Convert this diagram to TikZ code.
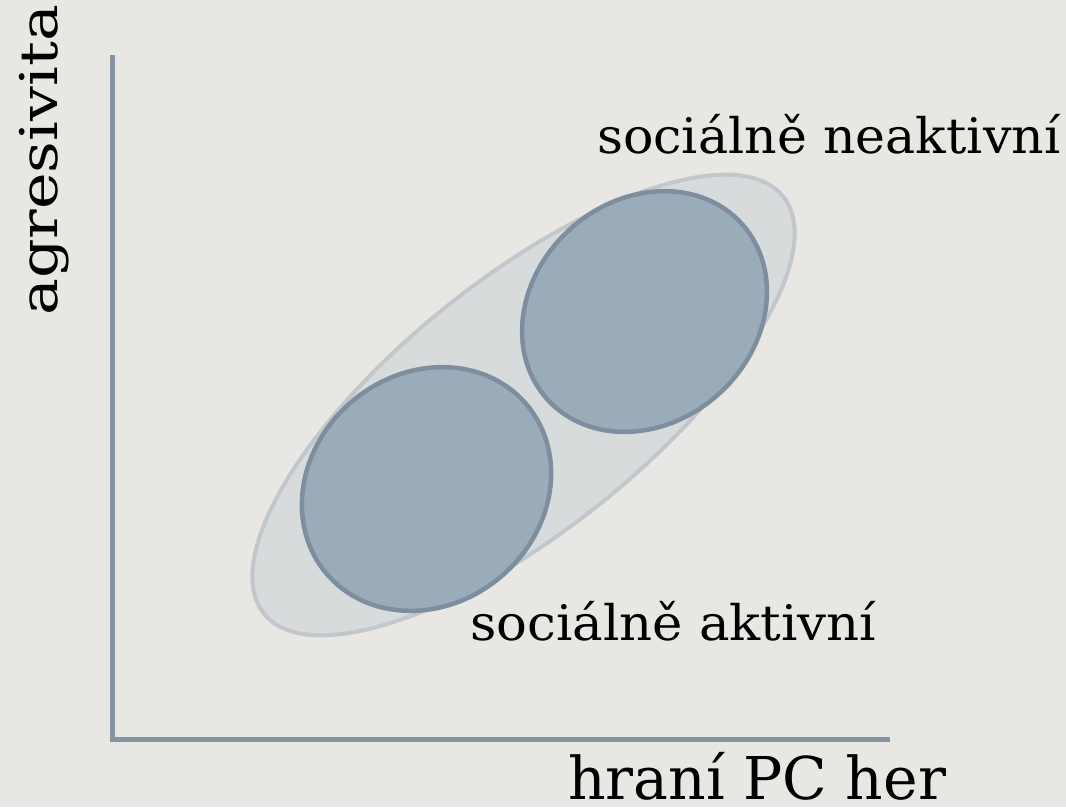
\documentclass[tikz,border=0pt]{standalone}
\usepackage{fontspec}
\setmainfont{DejaVu Serif}
\definecolor{bgc}{HTML}{E9E7E3}
\definecolor{axisc}{HTML}{8593A3}
\definecolor{bigfill}{HTML}{D6D9DB}
\definecolor{bigline}{HTML}{C3C7CB}
\definecolor{smallfill}{HTML}{9AABB9}
\definecolor{smallline}{HTML}{7E8E9F}
\begin{document}
\begin{tikzpicture}[x=1pt,y=-1pt,
  axisline/.style={draw=axisc,line width=5pt},
  cloud/.style={fill=bigfill,fill opacity=0.85,draw=bigline,line width=4pt},
  group/.style={fill=smallfill,draw=smallline,line width=4.5pt},
  lbl/.style={text=black,inner sep=0pt,anchor=base west}]
\fill[bgc] (0,0) rectangle (1066,807);
\useasboundingbox (0,0) rectangle (1066,807);
% axes
\coordinate (ytop) at (112,55);
\coordinate (origin) at (112,739);
\coordinate (xend) at (890,739);
\draw[axisline] (ytop) -- (origin) -- (xend);
% big ellipse
\draw[cloud,rotate around={38.8:(523.5,405)}] (523.5,405) ellipse [x radius=333, y radius=125];
% small ellipses
\draw[group,rotate around={40:(426.5,489)}] (426.5,489) ellipse [x radius=131, y radius=115];
\draw[group,rotate around={42:(644.5,311.5)}] (644.5,311.5) ellipse [x radius=131, y radius=111];
% labels
\node[lbl,font=\fontsize{49}{52}\selectfont] (neakt) at (597,153) {\scalebox{1.033}[1]{sociálně neaktivní}};
\node[lbl,font=\fontsize{49}{52}\selectfont] (akt) at (470,640) {\scalebox{1.047}[1]{sociálně aktivní}};
\node[lbl,font=\fontsize{59}{63}\selectfont,text depth=0pt] (xlab) at (568,799) {\scalebox{0.99}[1]{hraní PC her}};
\node[lbl,font=\fontsize{52}{56}\selectfont,rotate=90] (ylab) at (57,316) {\scalebox{1.19}[1]{agresivita}};
\end{tikzpicture}
\end{document}
